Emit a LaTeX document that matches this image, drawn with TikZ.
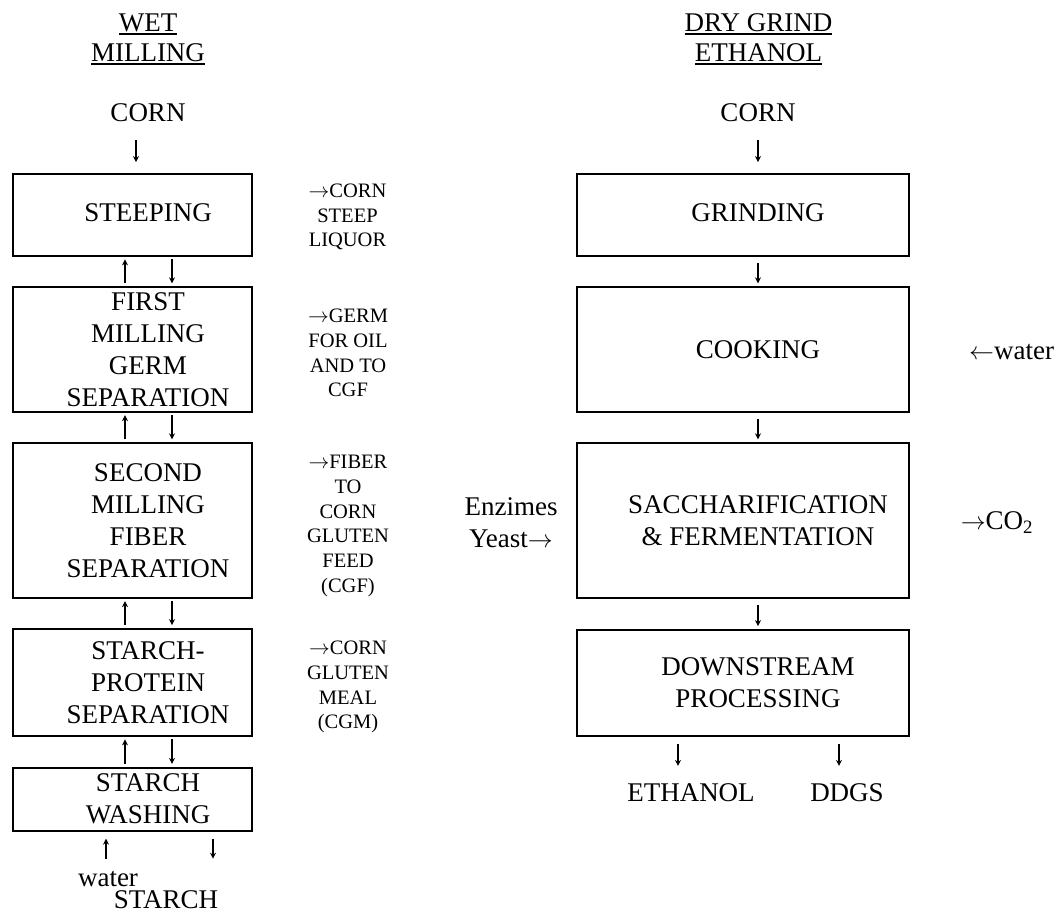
\documentclass[tikz,border=0pt]{standalone}
\usepackage{fontspec}
\setmainfont{Liberation Serif}
\newcommand{\hdul}[1]{\vtop{\hbox{#1}\kern1.6pt\hrule height 1.6pt}}
\usetikzlibrary{calc,arrows.meta}
\tikzset{
  box/.style={draw, line width=1.8pt, inner sep=0pt},
  big/.style={font=\fontsize{27}{32}\selectfont, align=center, inner sep=0pt},
  small/.style={font=\fontsize{20.5}{24.8}\selectfont, align=center, inner sep=0pt},
  head/.style={font=\fontsize{27}{30}\selectfont, align=center, inner sep=0pt},
  arr/.style={line width=1.1pt, -{Stealth[length=6pt,width=6pt,inset=2pt]}},
}
\begin{document}
\begin{tikzpicture}[x=1pt,y=-1pt]
\useasboundingbox (0,0) rectangle (1058,920);

% ---------- WET MILLING ----------
\node[head] (hL) at (148,39) {\hdul{WET}\\\hdul{MILLING}};
\node[big] (cornL) at (148,113) {CORN};

\node[box, minimum width=239, minimum height=82]    (b1) at (132.5,215)   {};
\node[box, minimum width=239, minimum height=124.5] (b2) at (132.5,349.5) {};
\node[box, minimum width=239, minimum height=154.5] (b3) at (132.5,520.5) {};
\node[box, minimum width=239, minimum height=107]   (b4) at (132.5,682.5) {};
\node[box, minimum width=239, minimum height=63]    (b5) at (132.5,799.3) {};

\node[big] (t1) at (148,213)   {STEEPING};
\node[big] (t2) at (148,349.5) {FIRST\\MILLING\\GERM\\SEPARATION};
\node[big] (t3) at (148,521)   {SECOND\\MILLING\\FIBER\\SEPARATION};
\node[big] (t4) at (148,682.5) {STARCH-\\PROTEIN\\SEPARATION};
\node[big] (t5) at (148,799)   {STARCH\\WASHING};

\node[small] (s1) at (347.5,217) {$\rightarrow$CORN\\STEEP\\LIQUOR};
\node[small] (s2) at (348,353)   {$\rightarrow$GERM\\FOR OIL\\AND TO\\CGF};
\node[small] (s3) at (348,526)   {$\rightarrow$FIBER\\TO\\CORN\\GLUTEN\\FEED\\(CGF)};
\node[small] (s4) at (348,687)   {$\rightarrow$CORN\\GLUTEN\\MEAL\\(CGM)};

\node[big] (waterL) at (108,879) {water};
\node[big] (starch) at (166,900) {STARCH};

\draw[arr] ($(cornL.south -| b1.north)+(3.5,18)$) -- ($(b1.north)+(3.5,-11)$);
\foreach \u/\l in {b1/b2,b2/b3,b3/b4,b4/b5}{
  \draw[arr] ($(\l.north)+(-7.5,-3)$) -- ($(\u.south)+(-7.5,2.5)$);
  \draw[arr] ($(\u.south)+(39.5,2.5)$) -- ($(\l.north)+(39.5,-3)$);
}
\draw[arr] ($(b5.south)+(-26.5,27)$) -- ($(b5.south)+(-26.5,7)$);
\draw[arr] ($(b5.south)+(80.5,7)$) -- ($(b5.south)+(80.5,27)$);

% ---------- DRY GRIND ETHANOL ----------
\node[head] (hR) at (758.5,39) {\hdul{DRY GRIND}\\\hdul{ETHANOL}};
\node[big] (cornR) at (758,113) {CORN};

\node[box, minimum width=332, minimum height=82]    (r1) at (743,215)   {};
\node[box, minimum width=332, minimum height=124.5] (r2) at (743,349.5) {};
\node[box, minimum width=332, minimum height=154.5] (r3) at (743,520.5) {};
\node[box, minimum width=332, minimum height=106]   (r4) at (743,683)   {};

\node[big] (u1) at (758,213)   {GRINDING};
\node[big] (u2) at (758,350)   {COOKING};
\node[big] (u3) at (758,521)   {SACCHARIFICATION\\\& FERMENTATION};
\node[big] (u4) at (758,682.5) {DOWNSTREAM\\PROCESSING};

\node[big, anchor=west] (waterR) at (969,352) {$\leftarrow$water};
\node[big] (co2) at (997,523) {$\rightarrow$CO\textsubscript{2}};
\node[big] (enz) at (511,523) {Enzimes\\Yeast$\rightarrow$};

\node[big] (eth)  at (691,793) {ETHANOL};
\node[big] (ddgs) at (847,793) {DDGS};

\draw[arr] ($(cornR.south -| r1.north)+(15,18)$) -- ($(r1.north)+(15,-11)$);
\foreach \u/\l in {r1/r2,r2/r3,r3/r4}{
  \draw[arr] ($(\u.south)+(15,6)$) -- ($(\l.north)+(15,-3)$);
}
\draw[arr] ($(r4.south)+(-65,7)$) -- ($(r4.south)+(-65,29)$);
\draw[arr] ($(r4.south)+(96,7)$) -- ($(r4.south)+(96,29)$);
\end{tikzpicture}
\end{document}
